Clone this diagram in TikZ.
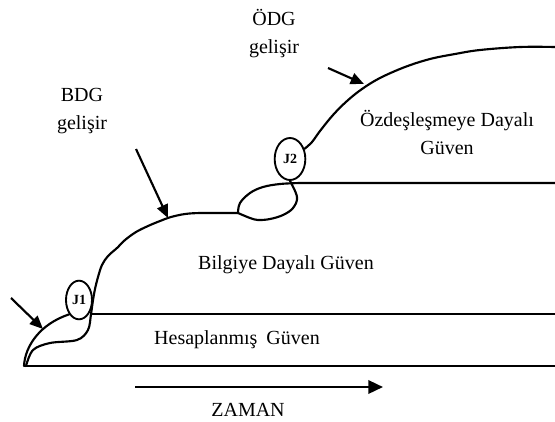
\documentclass[tikz,border=0pt]{standalone}
\usepackage{fontspec}
\setmainfont{Liberation Serif}
\usetikzlibrary{arrows.meta,shapes.geometric}
\begin{document}
\begin{tikzpicture}[x=0.75pt,y=-0.75pt,
  curve/.style={line width=1.6pt,line cap=round,line join=round},
  edge/.style={line width=1.6pt},
  pointer/.style={line width=1.6pt,-{Triangle[length=10pt,width=8.5pt]}},
  lbl/.style={font=\fontsize{15}{21}\selectfont,align=center,inner sep=0pt},
  jun/.style={draw,ellipse,line width=1.4pt,inner sep=0pt,font=\fontsize{10.5}{12}\selectfont\bfseries}]
\useasboundingbox (0,0) rectangle (555,421);

% junction ellipses
\node[jun,minimum width=19.5pt,minimum height=29pt] (j1) at (79,300) {J1};
\node[jun,minimum width=23pt,minimum height=31.5pt] (j2) at (290,159) {J2};

% horizontal layer boundaries
\coordinate (base0) at (24,366);
\coordinate (base1) at (555,366);
\coordinate (hes0) at (90,314);
\coordinate (hes1) at (555,314);
\draw[edge] (base0) -- (base1);
\draw[edge] (hes0) -- (hes1);

% lower lobe, upper strand into J1
\draw[curve] (base0) .. controls (25,346) and (40,324) .. (j1.south west);

% lower lobe, lower strand, then the growing curve up to the J2 loop
\draw[curve] plot[smooth,tension=0.55] coordinates {
  (26,366) (33,350) (50,343) (77,340) (88,330) (91,314) (93,300) (95,289)
  (98,277) (102,265) (108,256) (117,248) (125,240) (136,232) (148,226)
  (160,221) (171,217) (185,214) (200,213) (225,213) (238,213)};

% J2 loop: lower strand into J2
\draw[curve] plot[smooth,tension=0.6] coordinates {
  (238,213) (250,218) (258,220) (270,219) (283,215) (293,208) (297,197) (j2.south)};
% J2 loop: upper strand merging into the upper layer boundary
\coordinate (ozd1) at (555,183);
\draw[curve] plot[smooth,tension=0.6] coordinates {
  (238,213) (240,203) (250,193) (263,187) (280,184) (300,183)} -- (ozd1);

% upper curve from J2
\draw[curve] plot[smooth,tension=0.6] coordinates {
  (j2.35) (312,142) (320,131) (333,115) (347,101) (362,89) (380,78) (405,67)
  (430,59) (455,54) (480,50) (520,47) (555,47)};

% pointer arrows
\coordinate (a0) at (11,298);
\coordinate (a1) at (43,329);
\draw[pointer] (a0) -- (a1);
\coordinate (b0) at (136,149);
\coordinate (b1) at (168,218);
\draw[pointer] (b0) -- (b1);
\coordinate (c0) at (328,68);
\coordinate (c1) at (364,84);
\draw[pointer] (c0) -- (c1);

% time axis
\coordinate (t0) at (135,387);
\coordinate (t1) at (383,387);
\draw[line width=1.8pt,-{Triangle[length=11pt,width=10pt]}] (t0) -- (t1);

% labels
\node[lbl] (odg) at (274,34) {ÖDG\\gelişir};
\node[lbl] (bdg) at (82,111) {BDG\\gelişir};
\node[lbl] (ozd) at (447,132) {Özdeşleşmeye Dayalı\\Güven};
\node[lbl] (bil) at (286,265) {Bilgiye Dayalı Güven};
\node[lbl] (hes) at (237,340) {Hesaplanmış\hspace{0.45em}Güven};
\node[lbl] (zam) at (248,410) {ZAMAN};
\end{tikzpicture}
\end{document}
